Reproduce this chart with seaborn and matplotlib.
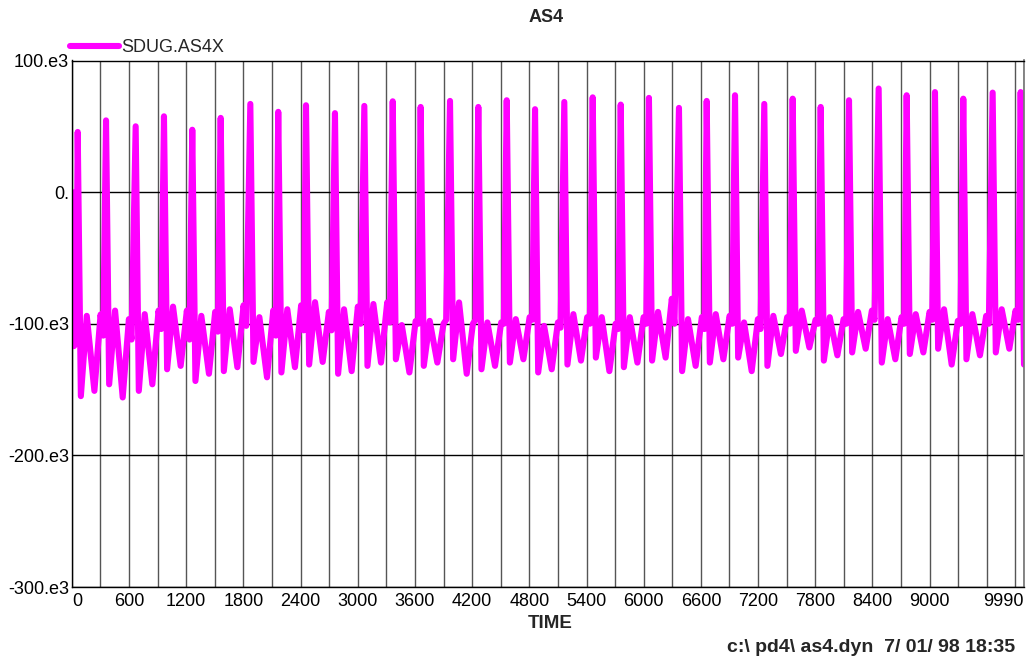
import numpy as np
import pandas as pd
import matplotlib
matplotlib.use('Agg')
import matplotlib.pyplot as plt
import seaborn as sns

# valores (en miles)
start_t = [0, 8, 22, 45]
start_v = [0, 0, -117, -115]

spike_t = [62, 359, 670, 967, 1264, 1562, 1873, 2166, 2457, 2761, 3069, 3367,
           3660, 3968, 4265, 4563, 4860, 5167, 5465, 5759, 6055, 6370, 6661,
           6958, 7265, 7563, 7857, 8154, 8465, 8759, 9056, 9353, 9661, 9955]
spike_v = [45.7, 54.5, 50, 57.6, 47.4, 56.4, 67, 61, 66, 60, 65.5, 69, 64.7,
           69.3, 64.7, 69.8, 63, 68.5, 72, 66.5, 71.6, 64, 69.3, 73.6, 67, 71,
           64.7, 69.8, 78.7, 73.6, 76, 71, 75.6, 76]
min1_v = [-155, -146, -151, -134.6, -143.5, -136, -129, -137, -131, -138, -132,
          -127, -132, -127, -134.6, -129.5, -137, -131, -125.7, -133, -128,
          -136, -129.5, -125.7, -132, -120.6, -128, -121.8, -129.5, -123, -119,
          -127, -121.8]
max1_v = [-94, -90, -92.7, -87, -94, -89, -95, -89, -83.6, -89, -85, -101,
          -97.8, -83.8, -99, -96.5, -101.6, -92.7, -95, -95, -91, -96.5, -92.7,
          -99, -94, -90, -95, -91, -96.5, -92.7, -89, -92.7, -89]
min2_v = [-151, -156, -146, -132, -138, -133, -140.7, -133, -129, -136, -129.5,
          -137, -129.5, -138, -132, -127, -134.6, -128, -136, -129.5, -125.7,
          -132, -127, -136, -123, -118, -124, -119, -127, -121.8, -131, -124,
          -119]
max2_v = [-93, -96.5, -90, -90, -91, -86, -90, -86, -91, -87, -83.8, -98, -100,
          -100, -99, -95, -99, -95, -100, -95, -81, -95, -94, -96.5, -95, -97,
          -96.5, -90, -95, -91, -97.8, -94, -90]
dip_v = [-109, -112, -104, -112, -106, -101.6, -109, -105, -105, -100, -99,
         -100, -97, -97, -100, -97, -103, -100, -104, -100, -100, -104, -100,
         -104, -100, -100, -100, -97, -100, -97, -100, -100, -97]
phase = [33, 95, 175, 240, 268]  # desfase respecto de cada pico

end_t = [9990]
end_v = [-131]

xticks = list(range(0, 9001, 600)) + [9990]
yticks = [-300e3, -200e3, -100e3, 0, 100e3]
ylabels = ['-300.e3', '-200.e3', '-100.e3', '0.', '100.e3']

# armado de la serie
tt, vv = list(start_t), list(start_v)
for i, ts in enumerate(spike_t):
    tt.append(ts)
    vv.append(spike_v[i])
    if i < len(min1_v):
        for off, arr in zip(phase, [min1_v, max1_v, min2_v, max2_v, dip_v]):
            tt.append(ts + off)
            vv.append(arr[i])
tt += end_t
vv += end_v
df = pd.DataFrame({'TIME': tt, 'SDUG.AS4X': np.array(vv) * 1000})

sns.set_theme(style='white')
plt.rcParams['font.family'] = ['Liberation Sans', 'DejaVu Sans']

fig = plt.figure(figsize=(10.27, 6.61), dpi=100)
ax = fig.add_axes([71.8 / 1027, 1 - 587 / 661, (1024 - 71.8) / 1027, (587 - 60.5) / 661])

sns.lineplot(data=df, x='TIME', y='SDUG.AS4X', estimator=None, sort=False,
             color='#ff00ff', linewidth=4.4, label='SDUG.AS4X', ax=ax)
for l in ax.lines:
    l.set_solid_capstyle('round')
    l.set_solid_joinstyle('round')

ax.set_xlim(0, 9990)
ax.set_ylim(-300e3, 100e3)
ax.set_xticks(xticks)
ax.set_xticklabels([str(x) for x in xticks])
ax.set_xticks(list(range(300, 9901, 300)), minor=True)
ax.set_yticks(yticks)
ax.set_yticklabels(ylabels)
ax.tick_params(axis='both', which='both', length=0, labelsize=13, colors='black')
ax.tick_params(axis='x', pad=4)
ax.tick_params(axis='y', pad=2)
labs = ax.get_xticklabels()
labs[0].set_ha('left')
labs[-1].set_ha('right')

ax.grid(axis='x', which='both', color='#555555', linewidth=1)
ax.grid(axis='y', which='major', color='black', linewidth=1)
ax.set_axisbelow(True)
for s in ['left', 'bottom', 'top']:
    ax.spines[s].set_color('black')
    ax.spines[s].set_linewidth(1)
ax.spines['right'].set_color('#777777')
ax.set_xlabel('')
ax.set_ylabel('')

leg = ax.legend(loc='lower left', bbox_to_anchor=(-0.002, 1.008), frameon=False,
                borderaxespad=0, borderpad=0, handlelength=2.7, handletextpad=0.15,
                fontsize=13)
for h in leg.get_lines():
    h.set_linewidth(4.4)
    h.set_solid_capstyle('round')

fig.text(546 / 1027, 1 - 18 / 661, 'AS4', ha='center', va='center',
         fontsize=13, fontweight='bold')
fig.text(550 / 1027, 1 - 624 / 661, 'TIME', ha='center', va='center',
         fontsize=13.5, fontweight='bold')
fig.text(1015 / 1027, 1 - 648 / 661, r'c:\ pd4\ as4.dyn  7/ 01/ 98 18:35',
         ha='right', va='center', fontsize=14, fontweight='bold')

fig.savefig('out.png', dpi=100)
